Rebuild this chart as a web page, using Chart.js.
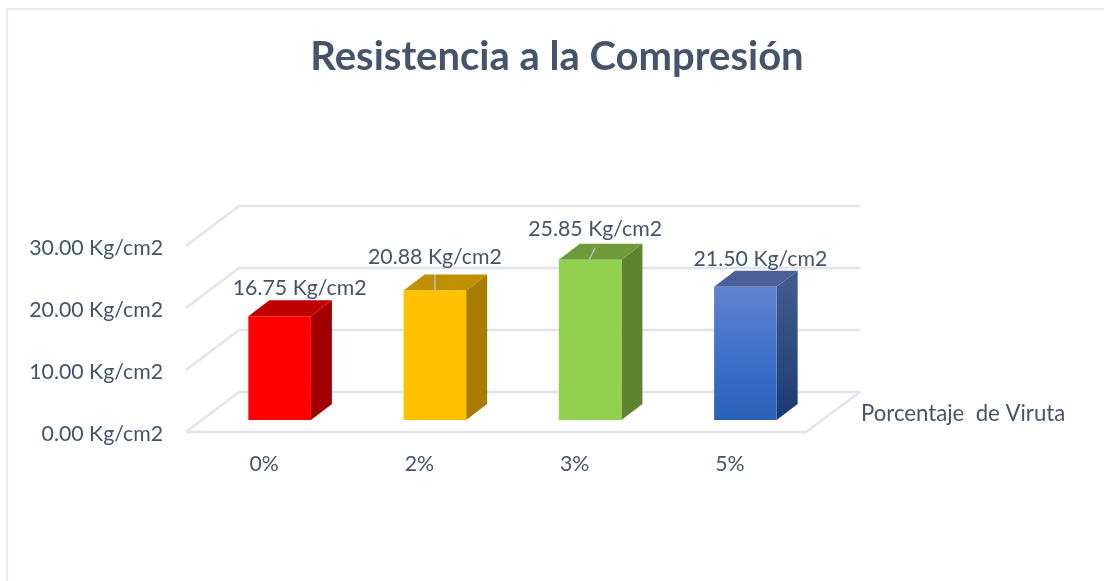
<!DOCTYPE html>
<html>
<head>
<meta charset="utf-8">
<style>
  html, body { margin: 0; padding: 0; background: #fff; overflow: hidden; }
  #wrap { position: relative; width: 1104px; height: 581px; }
  #frame { position: absolute; left: 6px; top: 8px; right: -4px; bottom: -4px; border: 2px solid #e6e9f1; }
</style>
</head>
<body>
<div id="wrap">
  <div id="frame"></div>
  <canvas id="chart" width="1104" height="581" style="position:relative"></canvas>
</div>
<script src="https://cdn.jsdelivr.net/npm/chart.js@4"></script>
<script>
const categories = ['0%', '2%', '3%', '5%'];
const values = [16.75, 20.88, 25.85, 21.50];
const chartTitle = 'Resistencia a la Compresión';
const axisName = 'Porcentaje  de Viruta';
const unit = ' Kg/cm2';

const frontColors = ['#ff0000', '#ffc000', '#92d050', '#4472c4'];
const sideColors = ['#a00000', '#a67d00', '#5f8430', '#2a4478'];
const topColors = ['#bf0000', '#bf9000', '#6e9a38', '#4b5f99'];

// where each value label sits relative to its bar, as in the original
const labelShiftX = [20, 0, 5, 15];
const labelShiftY = [-28, -33, -31, -28];
const leaders = [null, [0, 0, 0, -16], [-1, 0, 5, -12], null];

const TEXT = '#44546A';
const GRID = '#e1e4ec';
const FONT = 'Lato';

// floor / wall geometry around the plot area
const WALL_DX = 37, WALL_DY = -28, FRONT_DX = -16, FRONT_DY = 12;
const BAR_DX = 21, BAR_DY = -16;

function poly(ctx, pts, fill) {
  ctx.beginPath();
  pts.forEach((p, i) => i ? ctx.lineTo(p[0], p[1]) : ctx.moveTo(p[0], p[1]));
  ctx.closePath();
  ctx.fillStyle = fill;
  ctx.fill();
}

const box3d = {
  id: 'box3d',
  beforeDatasetsDraw(chart) {
    const { ctx, chartArea, scales } = chart;
    const left = chartArea.left, right = chartArea.right;

    ctx.save();
    ctx.strokeStyle = GRID;
    ctx.lineWidth = 2.5;
    ctx.beginPath();
    scales.y.ticks.forEach(t => {
      const p = scales.y.getPixelForValue(t.value);
      ctx.moveTo(left + FRONT_DX, p + FRONT_DY);
      ctx.lineTo(left + WALL_DX, p + WALL_DY);
      ctx.lineTo(right + WALL_DX, p + WALL_DY);
    });
    const zero = scales.y.getPixelForValue(0);
    ctx.moveTo(left + FRONT_DX, zero + FRONT_DY);
    ctx.lineTo(right - 17, zero + FRONT_DY);
    ctx.lineTo(right + WALL_DX, zero + WALL_DY);
    ctx.stroke();

    // side and top faces of the bars
    chart.getDatasetMeta(0).data.forEach((bar, i) => {
      const x0 = bar.x - bar.width / 2, x1 = bar.x + bar.width / 2;
      let side = sideColors[i];
      if (i === 3) {
        side = ctx.createLinearGradient(0, bar.y, 0, bar.base);
        side.addColorStop(0, '#3f5a8e');
        side.addColorStop(1, '#1c3a73');
      }
      poly(ctx, [[x1, bar.y], [x1 + BAR_DX, bar.y + BAR_DY], [x1 + BAR_DX, bar.base + BAR_DY], [x1, bar.base]], side);
      poly(ctx, [[x0, bar.y], [x0 + BAR_DX, bar.y + BAR_DY], [x1 + BAR_DX, bar.y + BAR_DY], [x1, bar.y]], topColors[i]);
    });
    ctx.restore();
  },
  afterDatasetsDraw(chart) {
    const { ctx, chartArea, scales } = chart;
    ctx.save();
    chart.getDatasetMeta(0).data.forEach((bar, i) => {
      if (leaders[i]) {
        const l = leaders[i];
        ctx.strokeStyle = '#b4bcc8';
        ctx.lineWidth = 1.5;
        ctx.beginPath();
        ctx.moveTo(bar.x + l[0], bar.y + l[1]);
        ctx.lineTo(bar.x + l[2], bar.y + l[3]);
        ctx.stroke();
      }
      ctx.fillStyle = TEXT;
      ctx.font = '21.3px ' + FONT;
      ctx.textAlign = 'center';
      ctx.textBaseline = 'middle';
      ctx.fillText(values[i].toFixed(2) + unit, bar.x + labelShiftX[i], bar.y + labelShiftY[i]);
    });
    ctx.font = '22.2px ' + FONT;
    ctx.textAlign = 'left';
    ctx.fillText(axisName, chartArea.right + 38, scales.y.getPixelForValue(0) - 6);
    ctx.restore();
  }
};

new Chart(document.getElementById('chart'), {
  type: 'bar',
  data: {
    labels: categories,
    datasets: [{
      data: values,
      barPercentage: 0.403,
      categoryPercentage: 1,
      borderWidth: 0,
      backgroundColor(c) {
        const area = c.chart.chartArea;
        if (c.dataIndex !== 3 || !area) return frontColors[c.dataIndex];
        const s = c.chart.scales.y;
        const g = c.chart.ctx.createLinearGradient(0, s.getPixelForValue(values[3]), 0, s.getPixelForValue(0));
        g.addColorStop(0, '#6083d0');
        g.addColorStop(0.6, '#3b6ec8');
        g.addColorStop(1, '#2c5fb8');
        return g;
      }
    }]
  },
  options: {
    responsive: false,
    animation: false,
    layout: { padding: { left: 10, right: 0, top: 0, bottom: 0 } },
    plugins: {
      legend: { display: false },
      tooltip: { enabled: false },
      title: {
        display: true,
        text: chartTitle,
        color: TEXT,
        font: { family: FONT, size: 40, weight: 'bold' },
        padding: { top: 33, bottom: 153 }
      }
    },
    scales: {
      x: {
        grid: { display: false },
        border: { display: false },
        ticks: { color: TEXT, font: { family: FONT, size: 21.3 }, padding: 23, labelOffset: -15.5 },
        afterFit(s) { s.height = 161; }
      },
      y: {
        min: 0,
        max: 30,
        grid: { display: false },
        border: { display: false },
        ticks: {
          stepSize: 10,
          color: TEXT,
          font: { family: FONT, size: 21.3 },
          padding: 31,
          labelOffset: 14,
          callback: v => v.toFixed(2) + unit
        },
        afterFit(s) { s.width = 192; }
      },
      y2: {
        position: 'right',
        grid: { display: false },
        border: { display: false },
        ticks: { display: false },
        afterFit(s) { s.width = 281; }
      }
    }
  },
  plugins: [box3d]
});
</script>
</body>
</html>
